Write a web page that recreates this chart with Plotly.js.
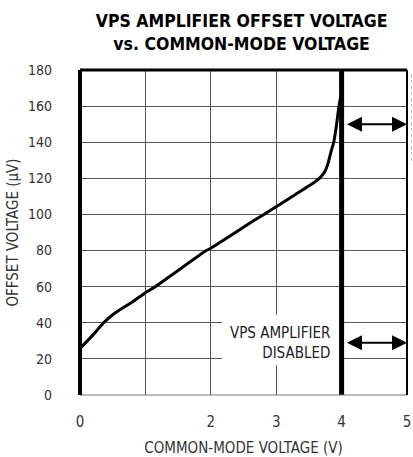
<!DOCTYPE html>
<html>
<head>
<meta charset="utf-8">
<script src="https://cdn.plot.ly/plotly-3.0.1.min.js"></script>
<style>html,body{margin:0;padding:0;background:#fff;}#chart{width:413px;height:457px;}</style>
</head>
<body>
<div id="chart"></div>
<script>
// Data
const commonModeV = [0, 0.2, 0.36, 0.53, 0.8, 1.0, 1.15, 1.5, 1.93, 2.0, 2.4, 2.67, 2.8, 3.0, 3.3, 3.55, 3.66, 3.74, 3.79, 3.84, 3.88, 3.92, 3.96, 4.0];
const offsetUV    = [25.8, 33.3, 40, 45.3, 51.5, 56.7, 60, 69, 80, 81.3, 90.5, 96.9, 99.7, 104.3, 111.2, 117, 120, 123.5, 128, 135, 140, 149, 160, 168];
const xTickVals = [0, 1, 2, 3, 4, 5];
const xTickText = ['0', '', '2', '3', '4', '5'];
const yTickVals = [0, 20, 40, 60, 80, 100, 120, 140, 160, 180];
const disabledFrom = 4;
const arrowLevels = [150, 29];
const titleLines = ['VPS AMPLIFIER OFFSET VOLTAGE', 'vs. COMMON-MODE VOLTAGE'];
const noteLines = ['VPS AMPLIFIER', 'DISABLED'];

const narrow = '"DejaVu Sans Condensed", "Liberation Sans Narrow", "Arial Narrow", sans-serif';

const trace = {
  x: commonModeV, y: offsetUV, type: 'scatter', mode: 'lines',
  line: {color: '#000', width: 3, shape: 'spline', smoothing: 0.3},
  hoverinfo: 'skip', showlegend: false
};

const shapes = [
  {type: 'rect', xref: 'x', yref: 'y', x0: 2.17, x1: 3.97, y0: 16.5, y1: 44.5,
   fillcolor: '#fff', line: {width: 0}, layer: 'between'},
  {type: 'line', xref: 'x', yref: 'paper', x0: disabledFrom, x1: disabledFrom, y0: 0, y1: 1,
   line: {color: '#000', width: 5}},
  {type: 'line', xref: 'paper', yref: 'paper', x0: 0, x1: 1, y0: 0, y1: 0, line: {color: '#777', width: 1}},
  {type: 'line', xref: 'paper', yref: 'paper', x0: 0, x1: 1, y0: 1, y1: 1, line: {color: '#000', width: 3}},
  {type: 'line', xref: 'paper', yref: 'paper', x0: 1, x1: 1, y0: 0, y1: 1, line: {color: '#000', width: 2}},
  {type: 'line', xref: 'paper', yref: 'paper', x0: 0, x1: 0, y0: 0, y1: 1, line: {color: '#000', width: 4}},
  {type: 'line', xref: 'paper', yref: 'paper', x0: 1.014, x1: 1.014, y0: 0.72, y1: 0.99,
   line: {color: '#bbb', width: 1, dash: 'dot'}}
];

const annotations = arrowLevels.map(v => ({
  x: 5, y: v, ax: disabledFrom + 0.06, ay: v, xref: 'x', yref: 'y', axref: 'x', ayref: 'y',
  text: '', showarrow: true, arrowside: 'end+start', arrowhead: 2, arrowsize: 1.5, arrowwidth: 2,
  arrowcolor: '#000', standoff: 0, startstandoff: 0
}));
annotations.push({
  x: 3.86, y: 29, xref: 'x', yref: 'y', xanchor: 'right', yanchor: 'middle', showarrow: false,
  align: 'right', text: noteLines.join('<br>'),
  font: {family: narrow, size: 15, color: '#222'}
});

const layout = {
  width: 413, height: 457,
  margin: {l: 80, r: 6, t: 70, b: 62, pad: 0},
  paper_bgcolor: '#fff', plot_bgcolor: '#fff',
  title: {
    text: '<b>' + titleLines.join('<br>') + '</b>',
    font: {family: narrow, size: 17.5, color: '#000'},
    x: 0.585, xanchor: 'center', y: 0.941, yanchor: 'middle'
  },
  xaxis: {
    range: [0, 5], tickvals: xTickVals, ticktext: xTickText, ticks: '',
    showgrid: true, gridcolor: '#555', gridwidth: 1, zeroline: false, showline: false,
    ticklabelstandoff: 16,
    tickfont: {family: narrow, size: 15, color: '#333'},
    title: {text: 'COMMON-MODE VOLTAGE (V)', font: {family: narrow, size: 15, color: '#333'}, standoff: 17},
    fixedrange: true
  },
  yaxis: {
    range: [0, 180], tickvals: yTickVals, ticks: '',
    showgrid: true, gridcolor: '#555', gridwidth: 1, zeroline: false, showline: false,
    ticklabelstandoff: 27,
    tickfont: {family: narrow, size: 14, color: '#333'},
    title: {text: 'OFFSET VOLTAGE (µV)', font: {family: narrow, size: 15, color: '#333'}, standoff: 5},
    fixedrange: true
  },
  shapes: shapes,
  annotations: annotations,
  showlegend: false
};

Plotly.newPlot('chart', [trace], layout, {displayModeBar: false, staticPlot: true});
</script>
</body>
</html>
